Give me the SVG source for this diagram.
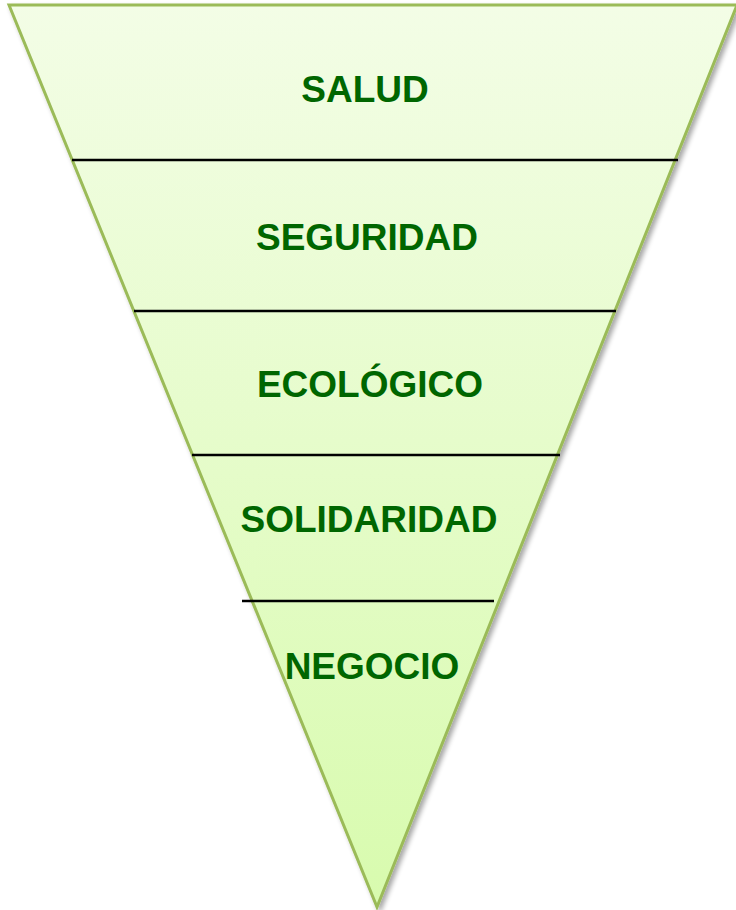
<svg xmlns="http://www.w3.org/2000/svg" width="736" height="910" viewBox="0 0 736 910">
<defs>
<linearGradient id="g" x1="0" y1="0" x2="0" y2="1">
<stop offset="0" stop-color="#f3fde6"/>
<stop offset="1" stop-color="#d8fbae"/>
</linearGradient>
<filter id="sh" x="-10%" y="-10%" width="120%" height="120%">
<feGaussianBlur in="SourceAlpha" stdDeviation="2.5"/>
<feOffset dx="3" dy="3" result="b"/>
<feComponentTransfer><feFuncA type="linear" slope="0.35"/></feComponentTransfer>
<feMerge><feMergeNode/><feMergeNode in="SourceGraphic"/></feMerge>
</filter>
</defs>
<style>
.lbl{font-family:"Liberation Sans",Arial,sans-serif;font-weight:bold;font-size:37px;fill:#006600;text-anchor:middle}
.div{stroke:#000;stroke-width:2.5}
</style>
<rect width="736" height="910" fill="#ffffff"/>
<g id="triangle">
<polygon points="9,5 737,5 377,907" fill="url(#g)" stroke="#9bbb59" stroke-width="3" stroke-linejoin="miter" filter="url(#sh)"/>
</g>
<g id="connectors">
<line class="div" x1="72" y1="160" x2="678" y2="160"/>
<line class="div" x1="134" y1="311" x2="616" y2="311"/>
<line class="div" x1="192" y1="455" x2="560" y2="455"/>
<line class="div" x1="242" y1="601" x2="494" y2="601"/>
</g>
<g id="salud"><text class="lbl" x="365" y="102">SALUD</text></g>
<g id="seguridad"><text class="lbl" x="367" y="250">SEGURIDAD</text></g>
<g id="ecologico"><text class="lbl" x="370" y="397">ECOLÓGICO</text></g>
<g id="solidaridad"><text class="lbl" x="369" y="532">SOLIDARIDAD</text></g>
<g id="negocio"><text class="lbl" x="372" y="679">NEGOCIO</text></g>
</svg>
